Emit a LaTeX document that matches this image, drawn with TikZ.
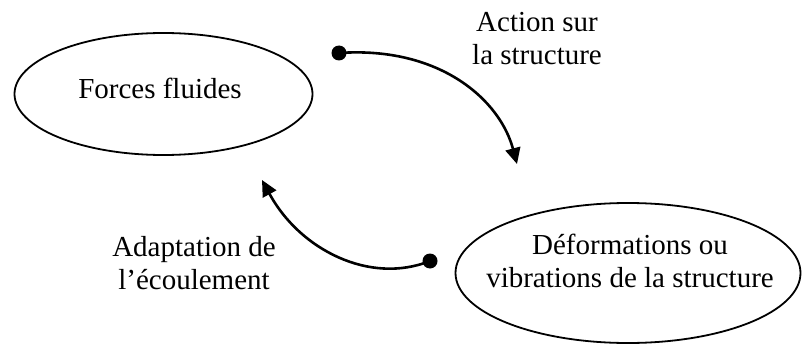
\documentclass[tikz,border=0pt]{standalone}
\usepackage{fontspec}
\setmainfont{Liberation Serif}
\usetikzlibrary{shapes.geometric,arrows.meta}
\begin{document}
\begin{tikzpicture}[x=1pt,y=-1pt,
  bubble/.style={draw,ellipse,line width=1.8pt,inner sep=0pt},
  lbl/.style={align=center,inner sep=0pt,font=\fontsize{29}{33}\selectfont},
  link/.style={line width=2.6pt,-{Triangle[length=16pt,width=15pt]}},
  dot/.style={fill,circle,inner sep=0pt,minimum size=15pt}]
\useasboundingbox (0,0) rectangle (803,345);
\node[bubble,minimum width=298pt,minimum height=122pt] (ff) at (163.5,94) {};
\node[bubble,minimum width=345pt,minimum height=140pt] (def) at (628,273) {};
\node[lbl] (ffl) at (160,88) {Forces fluides};
\node[lbl] (defl) at (630,261) {D\'eformations ou\\vibrations de la structure};
\node[lbl] (t1) at (537,39) {Action sur\\la structure};
\node[lbl] (t2) at (194,263.5) {Adaptation de\\l’écoulement};
\node[dot] (d1) at (339,53) {};
\node[dot] (d2) at (430,261) {};
\coordinate (e1) at (517,164);
\coordinate (e2) at (262,180);
\draw[link] (d1.center) .. controls (440,46) and (500,100) .. (e1);
\draw[link] (d2.center) .. controls (370,285) and (300,250) .. (e2);
\end{tikzpicture}
\end{document}
